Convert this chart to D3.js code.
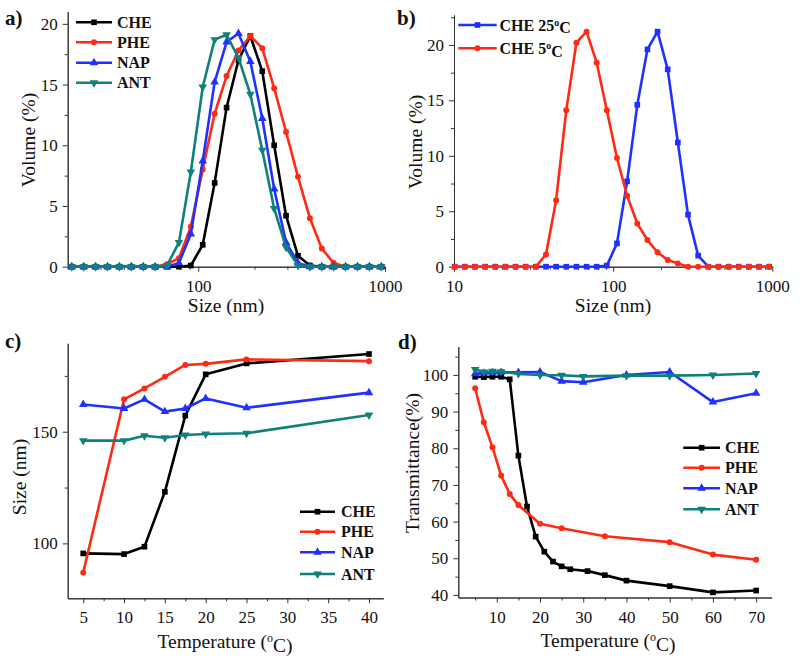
<!DOCTYPE html>
<html>
<head>
<meta charset="utf-8">
<script src="https://cdn.jsdelivr.net/npm/d3@7"></script>
<style>
body{margin:0;background:#fff;}
svg{display:block;}
.axis path,.axis line{stroke:#333;stroke-width:1;}
.axis text{font-size:17px;fill:#111;}
</style>
</head>
<body>
<script>
var FONT = "'Liberation Serif', 'Times New Roman', Tinos, 'DejaVu Serif', serif";

// DLS size bins (nm)
var sizeBins = [10.1, 11.7, 13.54, 15.69, 18.17, 21.04, 24.36, 28.21, 32.67, 37.84, 43.82,
  50.75, 58.77, 68.06, 78.82, 91.28, 105.7, 122.4, 141.8, 164.2, 190.1, 220.2, 255,
  295.3, 342, 396.1, 458.7, 531.2, 615.1, 712.4, 825, 955.4];

// panel a: volume (%) for bins from 21.04 nm
var binsA = sizeBins.slice(5);
var volCHE = [0,0,0,0,0,0,0,0,0,0,0.1,1.8,6.9,13.1,17.0,19.0,16.1,10.0,4.2,0.9,0.1,0,0,0,0,0,0];
var volPHE = [0,0,0,0,0,0,0,0,0.2,0.7,3.3,8.0,12.6,15.7,17.8,19.0,18.0,14.7,11.1,7.4,4.0,1.5,0.3,0,0,0,0];
var volNAP = [0,0,0,0,0,0,0,0,0,0.3,2.7,8.7,15.2,18.5,19.2,16.9,12.2,6.4,2.0,0.3,0,0,0,0,0,0,0];
var volANT = [0,0,0,0,0,0,0,0,0.1,2.0,7.8,14.8,18.7,19.1,17.2,14.2,9.6,4.8,1.6,0.1,0,0,0,0,0,0,0];

// panel b: CHE at two temperatures, all bins
var volCHE25 = [0,0,0,0,0,0,0,0,0,0,0,0,0,0,0,0.1,2.1,7.7,14.6,19.6,21.2,17.8,11.2,4.7,1.0,0,0,0,0,0,0,0];
var volCHE5  = [0,0,0,0,0,0,0,0,0,1.1,6.0,14.1,20.2,21.2,18.4,14.1,9.8,6.4,3.9,2.4,1.3,0.6,0.3,0,0,0,0,0,0,0,0,0];

// panel c: size (nm) vs temperature
var tempC = [5, 10, 12.5, 15, 17.5, 20, 25, 40];
var sizeCHE = [95.5, 95.2, 98.5, 123.1, 157.2, 175.7, 180.6, 184.8];
var sizePHE = [86.9, 164.5, 169.4, 174.6, 179.9, 180.4, 182.4, 181.6];
var sizeNAP = [162.2, 160.4, 164.5, 159.0, 160.4, 164.9, 160.7, 167.5];
var sizeANT = [146.0, 146.0, 148.2, 147.3, 148.5, 149.0, 149.3, 157.5];

// panel d: transmittance (%) vs temperature
var tempCHE = [5, 7, 9, 11, 13, 15, 17, 19, 21, 23, 25, 27, 31, 35, 40, 50, 60, 70];
var transCHE = [99.5, 99.4, 99.5, 99.5, 98.8, 78.0, 64.1, 55.9, 51.8, 49.1, 47.8, 47.0, 46.5, 45.4, 43.9, 42.4, 40.7, 41.2];
var tempPHE = [5, 7, 9, 11, 13, 15, 20, 25, 35, 50, 60, 70];
var transPHE = [96.4, 87.1, 80.3, 72.6, 67.5, 64.5, 59.4, 58.2, 56.0, 54.4, 51.0, 49.6];
var tempNA = [5, 7, 9, 11, 15, 20, 25, 30, 40, 50, 60, 70];
var transNAP = [100.3, 100.5, 100.6, 100.7, 100.7, 100.8, 98.3, 98.0, 100.0, 100.8, 92.6, 95.0];
var transANT = [101.5, 100.8, 101.0, 100.9, 100.3, 100.0, 99.9, 99.6, 99.8, 99.8, 100.0, 100.4];

var names = ["CHE", "PHE", "NAP", "ANT"];
var colors = {CHE: "#000000", PHE: "#ff2a14", NAP: "#1f30ff", ANT: "#0f807a"};
var shapes = {CHE: [d3.symbolSquare, 0, 32], PHE: [d3.symbolCircle, 0, 28],
              NAP: [d3.symbolTriangle, 0, 32], ANT: [d3.symbolTriangle, 180, 32]};

var svg = d3.select("body").append("svg")
    .attr("width", 800)
    .attr("height", 661)
    .attr("font-family", FONT)
    .style("font-family", FONT);

function zip(xs, ys){ return xs.map(function(v, i){ return [v, ys[i]]; }); }

function axes(x, y, xt, xm, yt, ym, xfmt){
  var y0 = y.range()[0], x0 = x.range()[0];
  svg.append("g").attr("class", "axis").attr("transform", "translate(0," + y0 + ")")
    .call(d3.axisBottom(x).tickValues(xm).tickSize(3).tickSizeOuter(0).tickFormat(""));
  svg.append("g").attr("class", "axis").attr("transform", "translate(0," + y0 + ")")
    .call(d3.axisBottom(x).tickValues(xt).tickSize(5).tickPadding(8).tickSizeOuter(0).tickFormat(xfmt || d3.format("d")))
    .attr("font-family", FONT).attr("font-size", 17);
  svg.append("g").attr("class", "axis").attr("transform", "translate(" + x0 + ",0)")
    .call(d3.axisLeft(y).tickValues(ym).tickSize(3).tickSizeOuter(0).tickFormat(""));
  svg.append("g").attr("class", "axis").attr("transform", "translate(" + x0 + ",0)")
    .call(d3.axisLeft(y).tickValues(yt).tickSize(5).tickPadding(5).tickSizeOuter(0).tickFormat(d3.format("d")))
    .attr("font-family", FONT).attr("font-size", 17);
}

function series(x, y, pts, name, color){
  var line = d3.line().x(function(d){ return x(d[0]); }).y(function(d){ return y(d[1]); });
  var s = shapes[name];
  svg.append("path").datum(pts)
    .attr("d", line)
    .style("fill", "none")
    .style("stroke", color)
    .style("stroke-width", 2.6)
    .style("stroke-linejoin", "round");
  svg.append("g").selectAll("path")
      .data(pts)
    .enter().append("path")
      .attr("d", d3.symbol().type(s[0]).size(s[2]))
      .attr("transform", function(d){ return "translate(" + x(d[0]) + "," + y(d[1]) + ") rotate(" + s[1] + ")"; })
      .style("fill", color);
}

function legend(items, x1, x2, tx, rows){
  items.forEach(function(it, i){
    var yy = rows[i], s = shapes[it.shape];
    svg.append("line").attr("x1", x1).attr("x2", x2).attr("y1", yy).attr("y2", yy)
      .style("stroke", it.color).style("stroke-width", 2.6);
    svg.append("path").attr("d", d3.symbol().type(s[0]).size(s[2]))
      .attr("transform", "translate(" + (x1 + x2) / 2 + "," + yy + ") rotate(" + s[1] + ")")
      .style("fill", it.color);
    var t = svg.append("text").attr("x", tx).attr("y", yy).attr("dy", "0.35em")
      .style("font-size", "16px").style("font-weight", "bold").style("fill", "#111");
    if(it.deg){
      t.append("tspan").text(it.label);
      t.append("tspan").text("o").attr("dy", "-0.45em").style("font-size", "10px");
      t.append("tspan").text("C").attr("dy", "0.45em");
    } else {
      t.text(it.label);
    }
  });
}

function ytitle(txt, cx, cy){
  svg.append("text").attr("transform", "translate(" + cx + "," + cy + ") rotate(-90)")
    .attr("text-anchor", "middle").attr("dy", "0.35em")
    .style("font-size", "19.5px").style("fill", "#111").text(txt);
}

function xtitle(txt, cx, by, deg){
  var t = svg.append("text").attr("x", cx).attr("y", by).attr("text-anchor", "middle")
    .style("font-size", "19.5px").style("fill", "#111");
  if(deg){
    t.append("tspan").text("Temperature (");
    t.append("tspan").text("o").attr("dy", "-0.5em").style("font-size", "12px");
    t.append("tspan").text("C)").attr("dy", "0.5em");
  } else {
    t.text(txt);
  }
}

function plabel(txt, x, y){
  svg.append("text").attr("x", x).attr("y", y).style("font-size", "21px")
    .style("font-weight", "bold").style("fill", "#111").text(txt);
}

var logMinor = [20, 30, 40, 50, 60, 70, 80, 90, 200, 300, 400, 500, 600, 700, 800, 900];

// ---- panel a
var xa = d3.scaleLog().domain([20, 1000]).range([67.7, 385]);
var ya = d3.scaleLinear().domain([0, 21]).range([266.7, 11.7]);
axes(xa, ya, [100, 1000], logMinor, [0, 5, 10, 15, 20], [2.5, 7.5, 12.5, 17.5]);
var volA = {CHE: volCHE, PHE: volPHE, NAP: volNAP, ANT: volANT};
names.forEach(function(n){ series(xa, ya, zip(binsA, volA[n]), n, colors[n]); });
legend(names.map(function(n){ return {label: n, color: colors[n], shape: n}; }),
  76, 112, 117, [22.3, 42.3, 62.7, 82.7]);
ytitle("Volume (%)", 28, 140);
xtitle("Size (nm)", 226, 312);
plabel("a)", 5, 25);

// ---- panel b
var xb = d3.scaleLog().domain([10, 1000]).range([454, 772.3]);
var yb = d3.scaleLinear().domain([0, 22.7]).range([266.7, 15]);
axes(xb, yb, [10, 100, 1000], [20, 30, 40, 50, 60, 70, 80, 90].concat(logMinor.slice(8)),
  [0, 5, 10, 15, 20], [2.5, 7.5, 12.5, 17.5, 22.5]);
series(xb, yb, zip(sizeBins, volCHE25), "CHE", "#1f30ff");
series(xb, yb, zip(sizeBins, volCHE5), "PHE", "#ff2a14");
legend([{label: "CHE 25", color: "#1f30ff", shape: "CHE", deg: true},
        {label: "CHE 5", color: "#ff2a14", shape: "PHE", deg: true}],
  458.3, 496.7, 499.5, [25, 48.3]);
ytitle("Volume (%)", 415, 142);
xtitle("Size (nm)", 613, 312);
plabel("b)", 397, 25);

// ---- panel c
var xc = d3.scaleLinear().domain([3.1, 41.75]).range([67.7, 383.3]);
var yc = d3.scaleLinear().domain([75.4, 189.6]).range([598.3, 343.3]);
axes(xc, yc, [5, 10, 15, 20, 25, 30, 35, 40], [7.5, 12.5, 17.5, 22.5, 27.5, 32.5, 37.5],
  [100, 150], [125, 175]);
var sizeS = {CHE: sizeCHE, PHE: sizePHE, NAP: sizeNAP, ANT: sizeANT};
names.forEach(function(n){ series(xc, yc, zip(tempC, sizeS[n]), n, colors[n]); });
legend(names.map(function(n){ return {label: n, color: colors[n], shape: n}; }),
  300, 335, 341, [511.7, 531.7, 552.3, 574]);
ytitle("Size (nm)", 19, 477);
xtitle("", 225, 648, true);
plabel("c)", 5, 348);

// ---- panel d
var xd = d3.scaleLinear().domain([1.1, 73.6]).range([458.3, 771.7]);
var yd = d3.scaleLinear().domain([39.3, 107.7]).range([597.5, 346.7]);
axes(xd, yd, [10, 20, 30, 40, 50, 60, 70], [5, 15, 25, 35, 45, 55, 65],
  [40, 50, 60, 70, 80, 90, 100], [45, 55, 65, 75, 85, 95, 105]);
series(xd, yd, zip(tempCHE, transCHE), "CHE", colors.CHE);
series(xd, yd, zip(tempPHE, transPHE), "PHE", colors.PHE);
series(xd, yd, zip(tempNA, transNAP), "NAP", colors.NAP);
series(xd, yd, zip(tempNA, transANT), "ANT", colors.ANT);
legend(names.map(function(n){ return {label: n, color: colors[n], shape: n}; }),
  683.3, 720, 725, [447.7, 467.7, 488.3, 509.3]);
ytitle("Transmittance(%)", 412, 463);
xtitle("", 608, 647, true);
plabel("d)", 398, 349);
</script>
</body>
</html>
